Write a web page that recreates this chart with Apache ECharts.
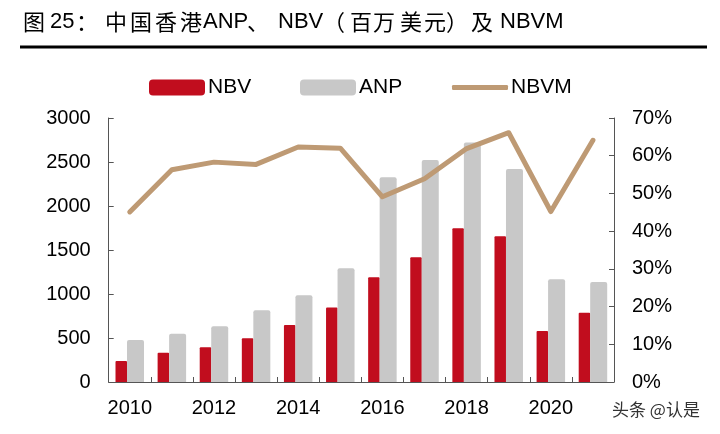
<!DOCTYPE html>
<html>
<head>
<meta charset="utf-8">
<script src="https://cdn.jsdelivr.net/npm/echarts@6/dist/echarts.min.js"></script>
<style>
html,body{margin:0;padding:0;background:#fff;}
#chart{width:720px;height:434px;}
</style>
</head>
<body>
<div id="chart"></div>
<script>
var categories = ['2010','2011','2012','2013','2014','2015','2016','2017','2018','2019','2020','2021'];
var nbv = [239, 333, 394, 496, 648, 848, 1189, 1417, 1746, 1655, 580, 788];
var anp = [477, 549, 633, 814, 985, 1292, 2326, 2523, 2723, 2420, 1167, 1136];
var nbvm = [45.1, 56.3, 58.3, 57.7, 62.3, 62.0, 49.1, 53.9, 61.9, 66.1, 45.2, 64.1];
var leftTicks = [0, 500, 1000, 1500, 2000, 2500, 3000];
var rightTicks = [0, 10, 20, 30, 40, 50, 60, 70];

var LAT = '"Liberation Sans", Arial, sans-serif';
var CJK = '"Noto Sans CJK SC", sans-serif';

var titleParts = [
  ['图', 23, CJK], ['25', 50, LAT], ['：', 76, CJK],
  ['中', 105, CJK], ['国', 130, CJK], ['香', 155, CJK], ['港', 180, CJK],
  ['ANP', 203, LAT], ['、', 247, CJK], ['NBV', 278, LAT], ['（', 323, CJK],
  ['百', 350, CJK], ['万', 373, CJK], ['美', 400, CJK], ['元', 424, CJK],
  ['）', 446, CJK], ['及', 471, CJK], ['NBVM', 500, LAT]
];
var graphics = titleParts.map(function (p) {
  return {
    type: 'text', left: p[1], top: 11,
    style: { text: p[0], font: '22px ' + p[2], fill: '#000' }
  };
});
graphics.push({
  type: 'rect', shape: { x: 20, y: 45.5, width: 687, height: 3 },
  style: { fill: '#000' }
});
graphics.push({
  type: 'text', left: 612, top: 401,
  style: { text: '头条 @认是', font: '17px ' + CJK, fill: '#333' }
});

function legendOf(name, left, h) {
  return { data: [name], left: left, top: 77, padding: 0, itemWidth: 56, itemHeight: h, icon: 'roundRect',
    textStyle: { fontSize: 21, fontFamily: LAT, color: '#000', padding: [0, 0, 0, -2] } };
}

var chart = echarts.init(document.getElementById('chart'));
chart.setOption({
  animation: false,
  backgroundColor: '#fff',
  graphic: graphics,
  legend: [ legendOf('NBV', 149, 16), legendOf('ANP', 300, 16), legendOf('NBVM', 452, 5) ],
  grid: { left: 108.7, right: 106, top: 118, bottom: 52, containLabel: false },
  xAxis: {
    type: 'category', data: categories, boundaryGap: true,
    axisLine: { lineStyle: { color: '#555', width: 1 } },
    axisTick: { show: true, inside: true, length: 5, interval: 0, lineStyle: { color: '#555' } },
    axisLabel: { interval: 1, fontSize: 20, fontFamily: LAT, color: '#000', margin: 16 },
    splitLine: { show: false }
  },
  yAxis: [
    { type: 'value', min: leftTicks[0], max: leftTicks[leftTicks.length - 1], interval: 500,
      axisLine: { show: true, lineStyle: { color: '#555' } },
      axisTick: { show: true, inside: true, length: 5, lineStyle: { color: '#555' } },
      axisLabel: { fontSize: 20, fontFamily: LAT, color: '#000', margin: 18,
        formatter: function (v) { return String(v); } },
      splitLine: { show: false } },
    { type: 'value', min: rightTicks[0], max: rightTicks[rightTicks.length - 1], interval: 10,
      position: 'right',
      axisLine: { show: true, lineStyle: { color: '#555' } },
      axisTick: { show: true, inside: true, length: 5, lineStyle: { color: '#555' } },
      axisLabel: { fontSize: 20, fontFamily: LAT, color: '#000', margin: 18,
        formatter: function (v) { return v + '%'; } },
      splitLine: { show: false } }
  ],
  series: [
    { name: 'NBV', type: 'bar', data: nbv, barWidth: 11.5, barGap: '0%',
      itemStyle: { color: '#C10D1E', borderRadius: [1, 1, 0, 0] } },
    { name: 'ANP', type: 'bar', data: anp, barWidth: 17, barGap: '0%',
      itemStyle: { color: '#C8C8C8', borderRadius: [2, 2, 0, 0] } },
    { name: 'NBVM', type: 'line', yAxisIndex: 1, data: nbvm, symbol: 'none', z: 5,
      lineStyle: { color: '#BE9A74', width: 5, cap: 'round', join: 'round' }, itemStyle: { color: '#BE9A74' } }
  ]
});
</script>
</body>
</html>
